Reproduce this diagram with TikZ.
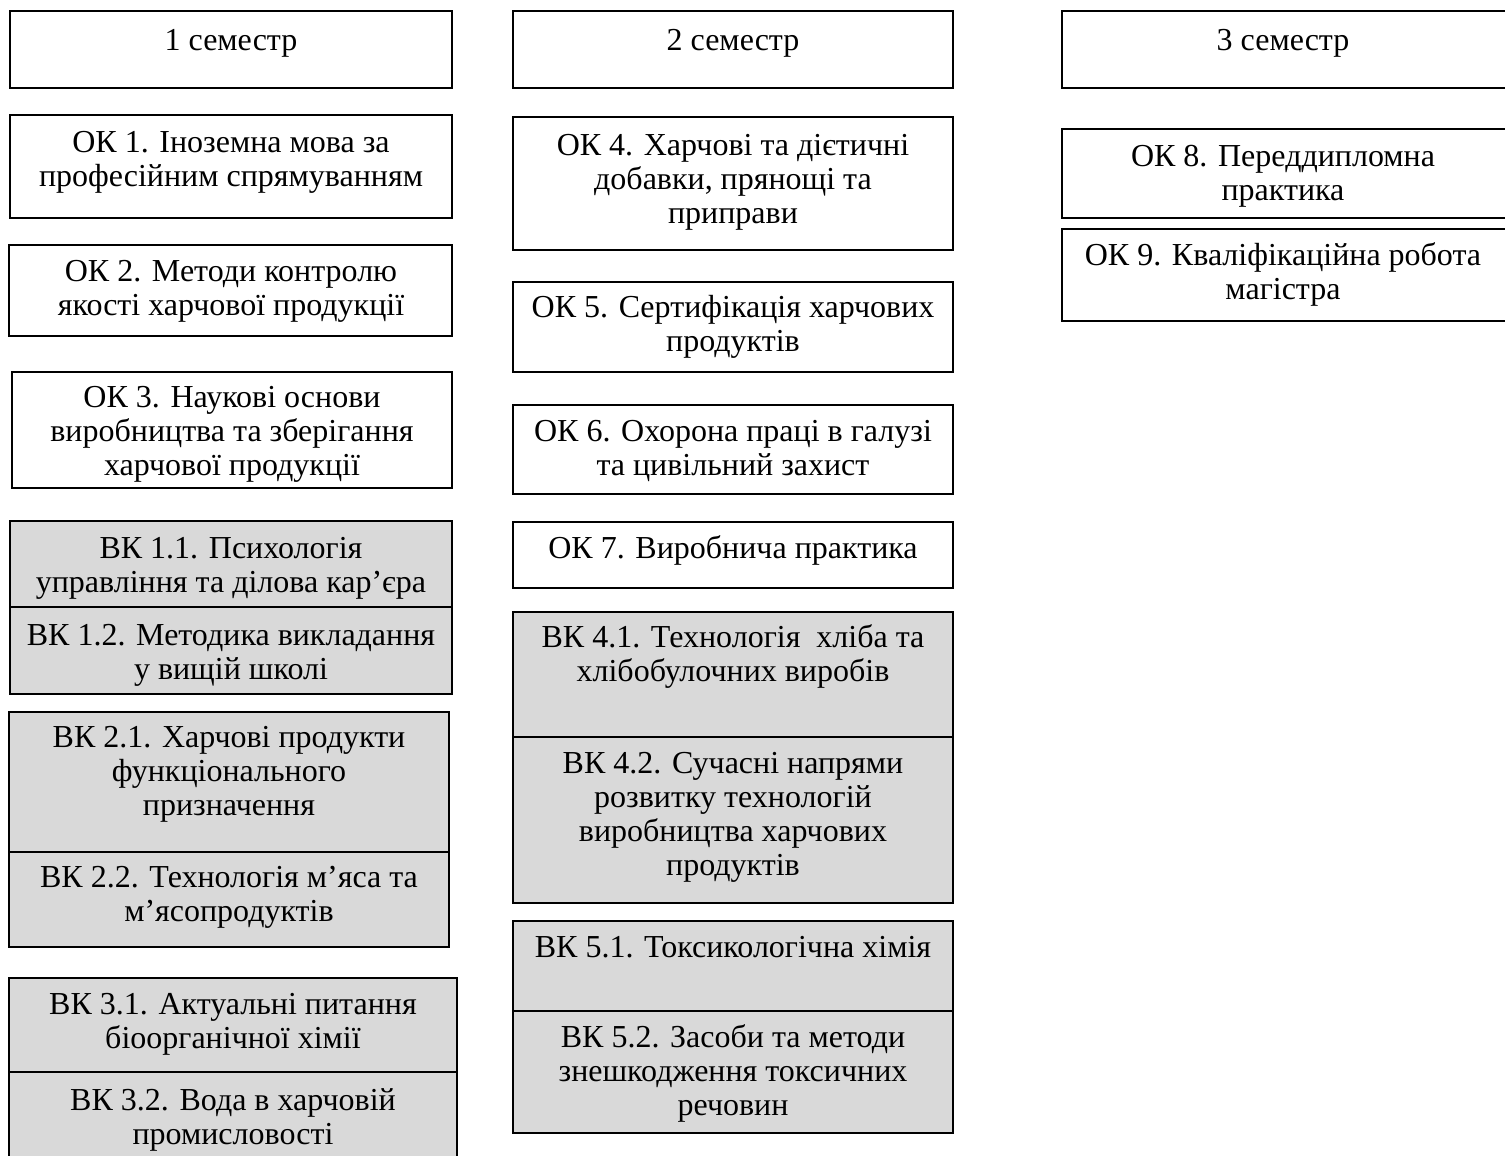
\documentclass[tikz,border=0pt]{standalone}
\usepackage{fontspec}
\setmainfont{Liberation Serif}
\definecolor{vkgrey}{HTML}{D9D9D9}

\begin{document}
\begin{tikzpicture}[x=0.5pt, y=-0.5pt, line width=0.7pt,
  okbox/.style={draw=black},
  vkbox/.style={draw=black, fill=vkgrey},
  lbl/.style={anchor=base, align=center, inner sep=0pt, font=\fontsize{16}{17}\selectfont}]
  \useasboundingbox (0,0) rectangle (1505,1156);

  % semester headers
  \draw[okbox] (10,11) rectangle (452,88);
  \draw[okbox] (513,11) rectangle (953,88);
  \draw[okbox] (1062,11) rectangle (1510,88);
  \node[lbl] (sem1) at (231,51) {1 семестр};
  \node[lbl] (sem2) at (733,51) {2 семестр};
  \node[lbl] (sem3) at (1283,51) {3 семестр};

  % 1 semester (label at baseline of last line)
  \draw[okbox] (10,115) rectangle (452,218);
  \draw[okbox] (9,245) rectangle (452,336);
  \draw[okbox] (12,372) rectangle (452,488);
  \draw[vkbox] (10,521) rectangle (452,607);
  \draw[vkbox] (10,607) rectangle (452,694);
  \draw[vkbox] (9,712) rectangle (449,852);
  \draw[vkbox] (9,852) rectangle (449,947);
  \draw[vkbox] (9,978) rectangle (457,1072);
  \draw[vkbox] (9,1072) rectangle (457,1170);
  \node[lbl] (ok1) at (231,186) {ОК 1. Іноземна мова за\\професійним спрямуванням};
  \node[lbl] (ok2) at (231,315) {ОК 2. Методи контролю\\якості харчової продукції};
  \node[lbl] (ok3) at (232,475) {ОК 3. Наукові основи\\виробництва та зберігання\\харчової продукції};
  \node[lbl] (vk11) at (231,592) {ВК 1.1. Психологія\\управління та ділова кар’єра};
  \node[lbl] (vk12) at (231,679) {ВК 1.2. Методика викладання\\у вищій школі};
  \node[lbl] (vk21) at (229,815) {ВК 2.1. Харчові продукти\\функціонального\\призначення};
  \node[lbl] (vk22) at (229,921) {ВК 2.2. Технологія м’яса та\\м’ясопродуктів};
  \node[lbl] (vk31) at (233,1048) {ВК 3.1. Актуальні питання\\біоорганічної хімії};
  \node[lbl] (vk32) at (233,1144) {ВК 3.2. Вода в харчовій\\промисловості};

  % 2 semester
  \draw[okbox] (513,117) rectangle (953,250);
  \draw[okbox] (513,282) rectangle (953,372);
  \draw[okbox] (513,405) rectangle (953,494);
  \draw[okbox] (513,522) rectangle (953,588);
  \draw[vkbox] (513,612) rectangle (953,737);
  \draw[vkbox] (513,737) rectangle (953,903);
  \draw[vkbox] (513,921) rectangle (953,1011);
  \draw[vkbox] (513,1011) rectangle (953,1133);
  \node[lbl] (ok4) at (733,223) {ОК 4. Харчові та дієтичні\\добавки, прянощі та\\приправи};
  \node[lbl] (ok5) at (733,351) {ОК 5. Сертифікація харчових\\продуктів};
  \node[lbl] (ok6) at (733,475) {ОК 6. Охорона праці в галузі\\та цивільний захист};
  \node[lbl] (ok7) at (733,558) {ОК 7. Виробнича практика};
  \node[lbl] (vk41) at (733,681) {ВК 4.1. Технологія\ \ хліба та\\хлібобулочних виробів};
  \node[lbl] (vk42) at (733,875) {ВК 4.2. Сучасні напрями\\розвитку технологій\\виробництва харчових\\продуктів};
  \node[lbl] (vk51) at (733,957) {ВК 5.1. Токсикологічна хімія};
  \node[lbl] (vk52) at (733,1115) {ВК 5.2. Засоби та методи\\знешкодження токсичних\\речовин};

  % 3 semester
  \draw[okbox] (1062,129) rectangle (1510,218);
  \draw[okbox] (1062,229) rectangle (1510,321);
  \node[lbl] (ok8) at (1283,200) {ОК 8. Переддипломна\\практика};
  \node[lbl] (ok9) at (1283,299) {ОК 9. Кваліфікаційна робота\\магістра};
\end{tikzpicture}
\end{document}
